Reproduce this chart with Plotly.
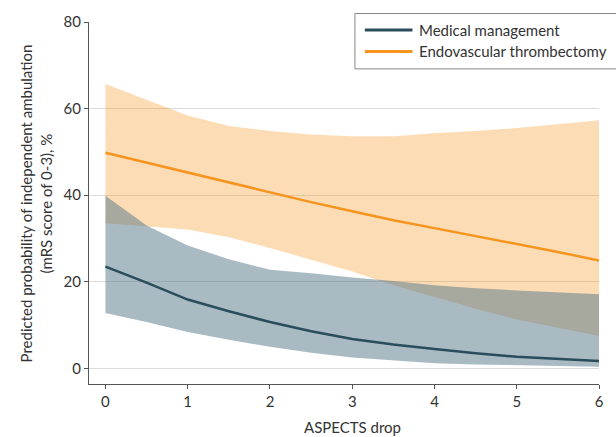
import plotly.graph_objects as go

# ---- data ----
aspects_drop = [0, 0.5, 1, 1.5, 2, 2.5, 3, 3.5, 4, 4.5, 5, 5.5, 6]

evt_mean  = [49.8, 47.5, 45.2, 42.9, 40.6, 38.4, 36.3, 34.2, 32.4, 30.6, 28.8, 26.9, 24.9]
evt_upper = [65.7, 62.1, 58.4, 56.0, 54.8, 54.0, 53.6, 53.6, 54.3, 54.8, 55.5, 56.4, 57.3]
evt_lower = [33.5, 32.8, 32.1, 30.3, 27.8, 25.1, 22.4, 19.2, 16.5, 13.8, 11.3, 9.4, 7.5]

mm_mean  = [23.5, 19.8, 15.9, 13.2, 10.7, 8.6, 6.8, 5.5, 4.5, 3.5, 2.7, 2.2, 1.7]
mm_upper = [39.9, 33.0, 28.4, 25.2, 22.8, 22.0, 21.0, 20.2, 19.2, 18.5, 18.0, 17.5, 17.1]
mm_lower = [12.8, 10.7, 8.4, 6.6, 5.0, 3.6, 2.5, 1.8, 1.2, 0.9, 0.7, 0.5, 0.4]

series_names = ["Medical management", "Endovascular thrombectomy"]
x_ticks = [0, 1, 2, 3, 4, 5, 6]
y_ticks = [0, 20, 40, 60, 80]
x_title = "ASPECTS drop"
y_title = "Predicted probability of independent ambulation<br>(mRS score of 0-3), %"

# ---- styles ----
FONT = "Lato, 'Open Sans', Arial, sans-serif"
TXT = "#333333"
ORANGE = "#f7941d"
TEAL = "#2a4d5b"
ORANGE_FILL = "rgba(247,148,29,0.33)"
TEAL_FILL = "rgba(83,117,135,0.5)"

W, H = 616, 437
ML, MR, MT, MB = 89, 13, 21, 53
PW, PH = W - ML - MR, H - MT - MB


def px(xp):
    return (xp - ML) / PW


def py(yp):
    return (H - MB - yp) / PH


fig = go.Figure()

# bands
fig.add_trace(go.Scatter(x=aspects_drop, y=evt_lower, mode="lines", line=dict(width=0),
                         showlegend=False, hoverinfo="skip"))
fig.add_trace(go.Scatter(x=aspects_drop, y=evt_upper, mode="lines", line=dict(width=0),
                         fill="tonexty", fillcolor=ORANGE_FILL, showlegend=False, hoverinfo="skip"))
fig.add_trace(go.Scatter(x=aspects_drop, y=mm_lower, mode="lines", line=dict(width=0),
                         showlegend=False, hoverinfo="skip"))
fig.add_trace(go.Scatter(x=aspects_drop, y=mm_upper, mode="lines", line=dict(width=0),
                         fill="tonexty", fillcolor=TEAL_FILL, showlegend=False, hoverinfo="skip"))

# lines
fig.add_trace(go.Scatter(x=aspects_drop, y=mm_mean, mode="lines", name=series_names[0],
                         line=dict(color=TEAL, width=2.5), showlegend=False))
fig.add_trace(go.Scatter(x=aspects_drop, y=evt_mean, mode="lines", name=series_names[1],
                         line=dict(color=ORANGE, width=2.5), showlegend=False))

axis_common = dict(
    showline=True, linecolor="#555555", linewidth=1,
    ticks="outside", ticklen=4, tickwidth=1, tickcolor="#555555",
    tickfont=dict(family=FONT, size=15, color=TXT),
    zeroline=False,
)

fig.update_xaxes(range=[-0.2, 6], tickvals=x_ticks, showgrid=False, **axis_common)
fig.update_yaxes(range=[-3.6, 80], tickvals=y_ticks, showgrid=True,
                 gridcolor="#dcdcdc", gridwidth=1, **axis_common)

shapes = []
annotations = []

# custom legend
shapes.append(dict(type="rect", xref="paper", yref="paper",
                   x0=px(357), x1=px(640), y0=py(68), y1=py(12.5),
                   fillcolor="white", line=dict(color="#888888", width=1), layer="above"))
for name, color, yrow in [(series_names[0], TEAL, 29), (series_names[1], ORANGE, 50.5)]:
    shapes.append(dict(type="line", xref="paper", yref="paper",
                       x0=px(367), x1=px(415), y0=py(yrow), y1=py(yrow),
                       line=dict(color=color, width=3), layer="above"))
    annotations.append(dict(text=name, xref="paper", yref="paper", x=px(420), y=py(yrow),
                            xanchor="left", yanchor="middle", showarrow=False,
                            font=dict(family=FONT, size=15, color=TXT)))

# axis titles
annotations.append(dict(text=x_title, xref="x", yref="paper", x=3, y=py(427.5),
                        xanchor="center", yanchor="middle", showarrow=False,
                        font=dict(family=FONT, size=15, color=TXT)))
annotations.append(dict(text=y_title, xref="paper", yref="paper", x=px(36), y=py(202.5),
                        xanchor="center", yanchor="middle", showarrow=False, textangle=-90,
                        font=dict(family=FONT, size=15, color=TXT)))

fig.update_layout(
    width=W, height=H,
    margin=dict(l=ML, r=MR, t=MT, b=MB, pad=0),
    paper_bgcolor="white", plot_bgcolor="white",
    showlegend=False,
    shapes=shapes, annotations=annotations,
    font=dict(family=FONT, size=15, color=TXT),
)

fig.write_html(
    "out.html",
    config={"displayModeBar": False, "staticPlot": True},
    post_script="document.body.style.margin='0';document.body.style.overflow='hidden';",
)
